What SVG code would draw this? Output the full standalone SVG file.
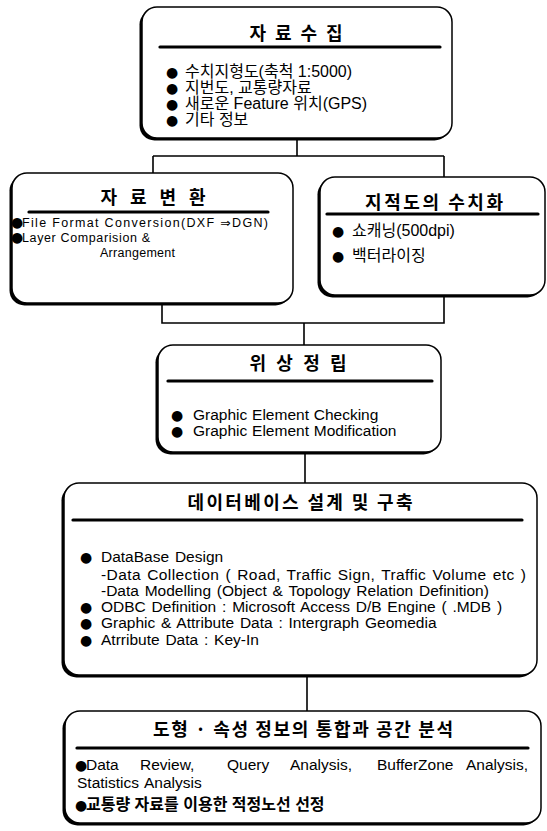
<svg xmlns="http://www.w3.org/2000/svg" width="547" height="831" viewBox="0 0 547 831">
<style>
.sh{fill:#000}
.bx{fill:#fff;stroke:#000;stroke-width:1.5}
.ul{stroke:#000;stroke-width:3.2;stroke-linecap:round}
.cn{fill:none;stroke:#000;stroke-width:1.6}
.t{font-family:"Noto Sans CJK KR","Liberation Sans",sans-serif;font-weight:bold;font-size:18px;fill:#000}
.k{font-family:"Liberation Sans","Noto Sans CJK KR",sans-serif;font-size:16px;fill:#000}
.e{font-family:"Liberation Sans","Noto Sans CJK KR",sans-serif;font-size:15.5px;word-spacing:1.5px;fill:#000}
.n{font-family:"Liberation Sans","DejaVu Sans",sans-serif;font-size:12.5px;fill:#000}
.b{font-family:"DejaVu Sans",sans-serif;font-size:14px;word-spacing:0;fill:#000}
</style>
<rect width="547" height="831" fill="#fff"/>
<g id="connectors">
<path class="cn" d="M297,138 V156 M153,156 H444 M153,156 V173 M444,156 V177"/>
<path class="cn" d="M162,303 V323 H444 V295 M304,323 V345"/>
<path class="cn" d="M305,454 V483"/>
<path class="cn" d="M307,677 V711"/>
</g>
<g id="n1">
<rect class="sh" x="139.5" y="9.5" width="310" height="131" rx="15"/>
<rect class="bx" x="142" y="7" width="310" height="131" rx="15"/>
<text class="t" x="296" y="40" text-anchor="middle" textLength="93">자 료 수 집</text>
<line class="ul" x1="160" y1="47" x2="440" y2="47"/>
<text class="k" y="77" font-size="15.5"><tspan class="b" x="166">●</tspan><tspan x="185">수치지형도(축척 1:5000)</tspan></text>
<text class="k" y="93" font-size="15.5"><tspan class="b" x="166">●</tspan><tspan x="185">지번도, 교통량자료</tspan></text>
<text class="k" y="109" font-size="15.5"><tspan class="b" x="166">●</tspan><tspan x="185">새로운  Feature 위치(GPS)</tspan></text>
<text class="k" y="125" font-size="15.5"><tspan class="b" x="166">●</tspan><tspan x="185">기타 정보</tspan></text>
</g>
<g id="n2">
<rect class="sh" x="9.5" y="175.5" width="281" height="130" rx="15"/>
<rect class="bx" x="12" y="173" width="281" height="130" rx="15"/>
<text class="t" x="153" y="204" text-anchor="middle" textLength="105">자 료 변 환</text>
<line class="ul" x1="29" y1="212" x2="268" y2="212"/>
<text class="n" y="227"><tspan class="b" x="11" font-size="11">●</tspan><tspan x="22" textLength="246">File Format Conversion(DXF  ⇒DGN)</tspan></text>
<text class="n" y="242"><tspan class="b" x="11" font-size="11">●</tspan><tspan x="22" textLength="128">Layer Comparision &amp;</tspan></text>
<text class="n" x="100" y="257" textLength="75">Arrangement</text>
</g>
<g id="n3">
<rect class="sh" x="317.5" y="179.5" width="225" height="118" rx="15"/>
<rect class="bx" x="320" y="177" width="225" height="118" rx="15"/>
<text class="t" x="434" y="209" text-anchor="middle" textLength="138">지적도의 수치화</text>
<line class="ul" x1="327" y1="214" x2="538" y2="214"/>
<text class="k" y="236"><tspan class="b" x="332">●</tspan><tspan x="352">쇼캐닝(500dpi)</tspan></text>
<text class="k" y="261"><tspan class="b" x="332">●</tspan><tspan x="352">백터라이징</tspan></text>
</g>
<g id="n4">
<rect class="sh" x="155.5" y="347.5" width="283" height="107" rx="15"/>
<rect class="bx" x="158" y="345" width="283" height="107" rx="15"/>
<text class="t" x="298" y="370" text-anchor="middle" textLength="97">위 상 정 립</text>
<line class="ul" x1="168" y1="381" x2="432" y2="381"/>
<text class="e" y="420" style="word-spacing:0.5px"><tspan class="b" x="171">●</tspan><tspan x="193">Graphic Element Checking</tspan></text>
<text class="e" y="436" style="word-spacing:0.5px"><tspan class="b" x="171">●</tspan><tspan x="193">Graphic Element Modification</tspan></text>
</g>
<g id="n5">
<rect class="sh" x="61.5" y="485.5" width="473" height="192" rx="15"/>
<rect class="bx" x="64" y="483" width="473" height="192" rx="15"/>
<text class="t" x="300" y="509" text-anchor="middle" textLength="225">데이터베이스 설계 및 구축</text>
<line class="ul" x1="73" y1="520" x2="522" y2="520"/>
<text class="e" y="562"><tspan class="b" x="80">●</tspan><tspan x="101">DataBase Design</tspan></text>
<text class="e" x="101" y="580" textLength="425">-Data Collection ( Road, Traffic Sign, Traffic Volume etc )</text>
<text class="e" x="101" y="596">-Data Modelling (Object &amp; Topology Relation Definition)</text>
<text class="e" y="612"><tspan class="b" x="80">●</tspan><tspan x="101">ODBC Definition : Microsoft Access D/B Engine ( .MDB )</tspan></text>
<text class="e" y="628"><tspan class="b" x="80">●</tspan><tspan x="101">Graphic &amp; Attribute Data : Intergraph Geomedia</tspan></text>
<text class="e" y="645"><tspan class="b" x="80">●</tspan><tspan x="101">Atrribute Data : Key-In</tspan></text>
</g>
<g id="n6">
<rect class="sh" x="62.5" y="713.5" width="476" height="112" rx="15"/>
<rect class="bx" x="65" y="711" width="476" height="112" rx="15"/>
<text class="t" x="303" y="736" text-anchor="middle" textLength="300">도형 · 속성 정보의 통합과 공간 분석</text>
<line class="ul" x1="77" y1="748" x2="528" y2="748"/>
<text class="e" y="770"><tspan class="b" x="75" font-size="11">●</tspan><tspan x="86">Data</tspan><tspan x="140">Review,</tspan><tspan x="227">Query</tspan><tspan x="290">Analysis,</tspan><tspan x="377">BufferZone</tspan><tspan x="466">Analysis,</tspan></text>
<text class="e" x="77" y="788">Statistics Analysis</text>
<text class="k" y="810" font-weight="bold" font-size="16"><tspan class="b" x="75" font-size="11">●</tspan><tspan x="86">교통량 자료를 이용한 적정노선 선정</tspan></text>
</g>
</svg>
